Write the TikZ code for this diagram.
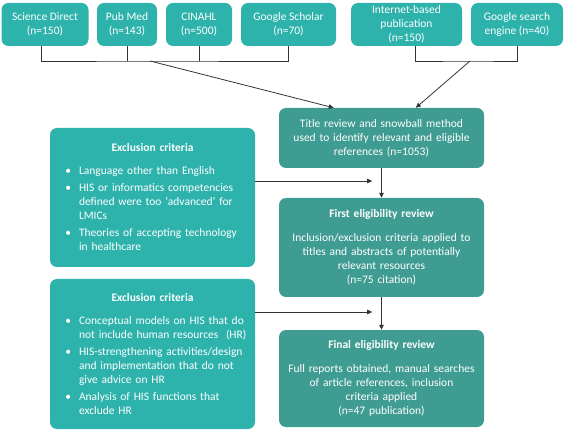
\documentclass[tikz,border=0pt]{standalone}
\usepackage{fontspec}
\setmainfont{Carlito}
\usepackage{enumitem}
\usetikzlibrary{arrows.meta}
\definecolor{srcteal}{HTML}{2DB3AC}
\definecolor{stepteal}{HTML}{3F9C92}
\tikzset{
  box/.style={
    rounded corners=7pt,
    text=white,
    align=center,
    inner sep=2pt,
    font=\fontsize{11.5}{14}\selectfont
  },
  source/.style={box, fill=srcteal, minimum height=43pt},
  stage/.style={box, fill=stepteal, text width=201pt, minimum width=203pt},
  crit/.style={box, fill=srcteal, text width=188pt, minimum width=205pt, align=left},
  link/.style={draw=black!80, line width=0.8pt},
  arrow/.style={link, -{Triangle[length=5pt,width=4.5pt]}}
}
\newcommand{\critlist}[1]{%
  {\centering\textbf{Exclusion criteria}\par}\vspace{7pt}%
  \begin{itemize}[leftmargin=20.5pt,labelsep=8pt,itemsep=3pt,topsep=0pt,parsep=0pt,label=\textbullet]
  #1
  \end{itemize}}

\begin{document}
\begin{tikzpicture}[x=1pt,y=-1pt]
\useasboundingbox (0,0) rectangle (567,435);
% sources
\node[source, minimum width=87pt] (sd) at (45,24.5) {Science Direct\\(n=150)};
\node[source, minimum width=60pt] (pm) at (127,24.5) {Pub Med\\(n=143)};
\node[source, minimum width=66pt] (cin) at (199,24.5) {CINAHL\\(n=500)};
\node[source, minimum width=95pt] (gs) at (288.5,24.5) {Google Scholar\\(n=70)};
\node[source, minimum width=111pt] (ib) at (406.5,24.5) {Internet-based\\publication\\(n=150)};
\node[source, minimum width=92pt] (gse) at (517,24.5) {Google search\\engine (n=40)};
% review stages
\node[stage, minimum height=60pt] (tr) at (381.5,138) {Title review and snowball method\\used to identify relevant and eligible\\references (n=1053)};
\node[stage, minimum height=99pt] (fe) at (381.5,247.5) {\textbf{First eligibility review}\\[10pt]Inclusion/exclusion criteria applied to\\titles and abstracts of potentially\\relevant resources\\(n=75 citation)};
\node[stage, minimum height=97pt] (fin) at (381.5,378.5) {\textbf{Final eligibility review}\\[10pt]Full reports obtained, manual searches\\of article references, inclusion\\criteria applied\\(n=47 publication)};
% exclusion criteria
\node[crit, minimum height=139pt] (exa) at (152.5,197.5) {\critlist{
  \item Language other than English
  \item HIS or informatics competencies defined were too `advanced' for LMICs
  \item Theories of accepting technology in healthcare}};
\node[crit, minimum height=150pt] (exb) at (152.5,354) {\critlist{
  \item Conceptual models on HIS that do not include human resources~~(HR)
  \item HIS-strengthening activities/design\newline and implementation that do not give advice on HR
  \item Analysis of HIS functions that exclude HR}};
% connectors
\coordinate (ja) at (150,61);
\coordinate (jb) at (470,61);
\draw[link] ([xshift=-4pt]sd.south) |- (ja) -| (gs.south);
\draw[link] (pm.south) -- (pm.south |- ja);
\draw[link] (cin.south) -- (cin.south |- ja);
\draw[arrow] (ja) -- ([xshift=55pt]tr.north west);
\draw[link] ([xshift=9pt]ib.south) |- (jb) -| (gse.south);
\draw[arrow] (jb) -- ([xshift=137pt]tr.north west);
\draw[arrow] (tr) -- (fe);
\draw[arrow] (fe) -- (fin);
\draw[arrow] ([yshift=16.5pt]exa.east) -- ++(117,0);
\draw[arrow] ([yshift=42pt]exb.east) -- ++(117,0);
\end{tikzpicture}
\end{document}
